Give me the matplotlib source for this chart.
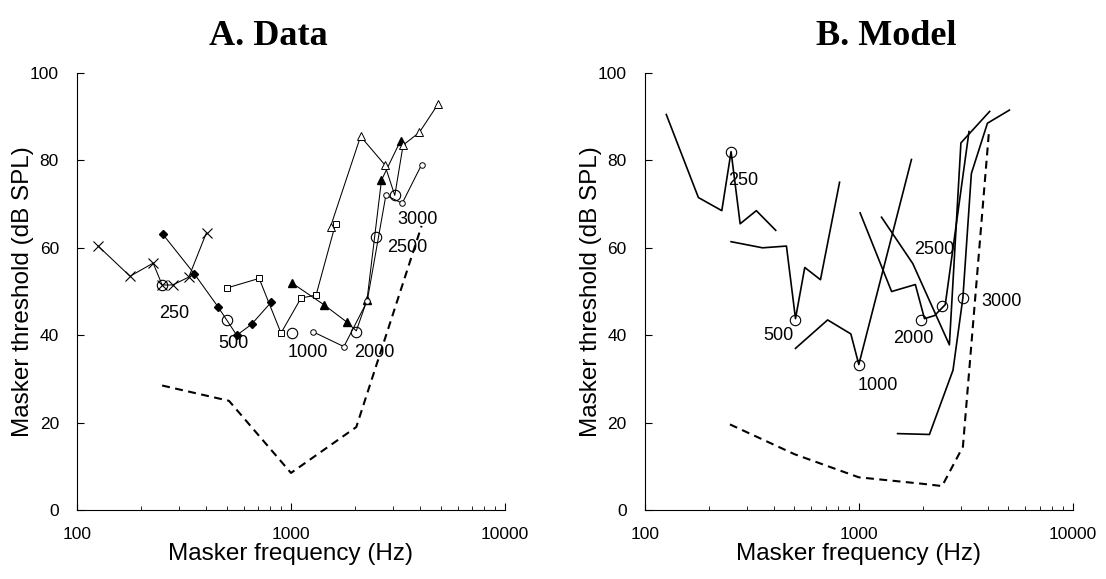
import matplotlib.pyplot as plt
import numpy as np

plt.rcParams['font.family'] = ['Liberation Sans', 'DejaVu Sans']

# ---- A. Data ----
x_f = [125, 177, 227, 250, 280, 333, 403]
x_db = [60.5, 53.5, 56.5, 51.5, 51.5, 53.3, 63.5]

dia_f = [251, 354, 456, 558, 654, 806]
dia_db = [63.2, 54, 46.5, 40, 42.5, 47.5]

sq_f = [501, 710, 898, 1114, 1310, 1615]
sq_db = [50.8, 53, 40.5, 48.5, 49.2, 65.5]

ftri_f = [1007, 1423, 1825, 2019, 2265, 2648, 3250]
ftri_db = [52, 47, 43, 41, 48, 75.5, 84.5]

otri_f = [1530, 2114, 2742, 3055, 3342, 3980, 4886]
otri_db = [64.8, 85.5, 79, 72, 83.5, 86.4, 93]

sc_f = [1265, 1767, 2270, 2775, 3310, 4075]
sc_db = [40.8, 37.4, 47.8, 72, 70.2, 79]

probe_a_f = [250, 504, 1007, 2019, 2506, 3055]
probe_a_db = [51.5, 43.4, 40.5, 40.8, 62.5, 72]
probe_a_lbl = ['250', '500', '1000', '2000', '2500', '3000']
lbl_a_f = [285, 540, 1200, 2440, 3500, 3900]
lbl_a_db = [45, 38, 36, 36, 60, 66.5]

abs_a_f = [250, 513, 1000, 2019, 4075]
abs_a_db = [28.5, 25, 8.5, 19, 65]

# ---- B. Model ----
m250_f = [126, 178, 229, 253, 279, 332, 409]
m250_db = [90.5, 71.5, 68.5, 82, 65.5, 68.5, 64]

m500_f = [253, 355, 459, 506, 559, 662, 813]
m500_db = [61.4, 60, 60.4, 43.8, 55.5, 52.7, 75]

m1000_f = [506, 715, 918, 1000, 1762]
m1000_db = [37, 43.5, 40.3, 33.3, 80.2]

m2000_f = [1014, 1423, 1837, 2027, 2260, 2535, 3273]
m2000_db = [68, 50, 51.6, 43.8, 44.5, 47, 86.6]

m2500_f = [1277, 1787, 2650, 3000, 4086]
m2500_db = [67, 56.4, 37.8, 84, 91.2]

m3000_f = [1518, 2138, 2755, 3065, 3357, 3990, 5055]
m3000_db = [17.5, 17.3, 32, 48.6, 77, 88.5, 91.5]

probe_b_f = [253, 506, 1000, 1960, 2450, 3065]
probe_b_db = [82, 43.6, 33.3, 43.6, 46.8, 48.6]
probe_b_lbl = ['250', '500', '1000', '2000', '2500', '3000']
lbl_b_f = [287, 423, 1233, 1790, 2245, 4620]
lbl_b_db = [75.5, 40, 28.6, 39.3, 59.7, 47.7]

abs_b_f = [250, 500, 1000, 2000, 2450, 3065, 4063]
abs_b_db = [19.6, 12.8, 7.5, 6, 5.5, 14.5, 87]

dash = (0, (3.8, 2.6))


def style_axes(ax):
    ax.set_xscale('log')
    ax.set_xlim(100, 10000)
    ax.set_ylim(0, 100)
    ax.set_yticks([0, 20, 40, 60, 80, 100])
    ax.set_xticks([100, 1000, 10000])
    ax.set_xticklabels(['100', '1000', '10000'])
    ax.spines['top'].set_visible(False)
    ax.spines['right'].set_visible(False)
    ax.tick_params(axis='both', which='major', direction='in', length=5,
                   labelsize=12.5)
    ax.tick_params(axis='x', which='major', pad=12)
    ax.tick_params(axis='y', which='major', pad=13)
    ax.tick_params(axis='x', which='minor', direction='in', length=3)
    ax.set_xlabel('Masker frequency (Hz)', fontsize=17.5, labelpad=1)
    ax.set_ylabel('Masker threshold (dB SPL)', fontsize=17.5, labelpad=-3)


fig = plt.figure(figsize=(11.06, 5.79), dpi=100)
ax1 = fig.add_axes([0.0696, 0.119, 0.387, 0.755])
ax2 = fig.add_axes([0.583, 0.119, 0.387, 0.755])

lw = 0.75
ax1.plot(x_f, x_db, color='black', lw=lw, marker='x', ms=7, mew=0.8)
ax1.plot(dia_f, dia_db, color='black', lw=lw, marker='D', ms=4)
ax1.plot(sq_f, sq_db, color='black', lw=lw, marker='s', ms=4.5, mfc='white',
         mew=0.7)
ax1.plot(ftri_f, ftri_db, color='black', lw=lw, marker='^', ms=5.5,
         markevery=[0, 1, 2, 4, 5, 6])
ax1.plot(otri_f, otri_db, color='black', lw=lw, marker='^', ms=5.5,
         mfc='white', mew=0.7, markevery=[0, 1, 2, 4, 5, 6])
ax1.plot(sc_f, sc_db, color='black', lw=lw, marker='o', ms=4, mfc='white',
         mew=0.7)
ax1.plot(probe_a_f, probe_a_db, ls='none', marker='o', ms=7.5, mfc='none',
         mec='black', mew=0.8)
ax1.plot(abs_a_f, abs_a_db, color='black', lw=1.5, ls=dash)
for f, d, t in zip(lbl_a_f, lbl_a_db, probe_a_lbl):
    ax1.text(f, d, t, fontsize=13, ha='center', va='center')
style_axes(ax1)

lw2 = 1.2
for f, d in [(m250_f, m250_db), (m500_f, m500_db), (m1000_f, m1000_db),
             (m2000_f, m2000_db), (m2500_f, m2500_db), (m3000_f, m3000_db)]:
    ax2.plot(f, d, color='black', lw=lw2)
ax2.plot(probe_b_f, probe_b_db, ls='none', marker='o', ms=7.5, mfc='none',
         mec='black', mew=0.8)
ax2.plot(abs_b_f, abs_b_db, color='black', lw=1.5, ls=dash)
for f, d, t in zip(lbl_b_f, lbl_b_db, probe_b_lbl):
    ax2.text(f, d, t, fontsize=13, ha='center', va='center')
style_axes(ax2)

fig.text(0.243, 0.937, 'A. Data', family='Liberation Serif',
         fontweight='bold', fontsize=26, ha='center', va='center')
fig.text(0.801, 0.937, 'B. Model', family='Liberation Serif',
         fontweight='bold', fontsize=26, ha='center', va='center')

fig.savefig('out.png', dpi=100)
